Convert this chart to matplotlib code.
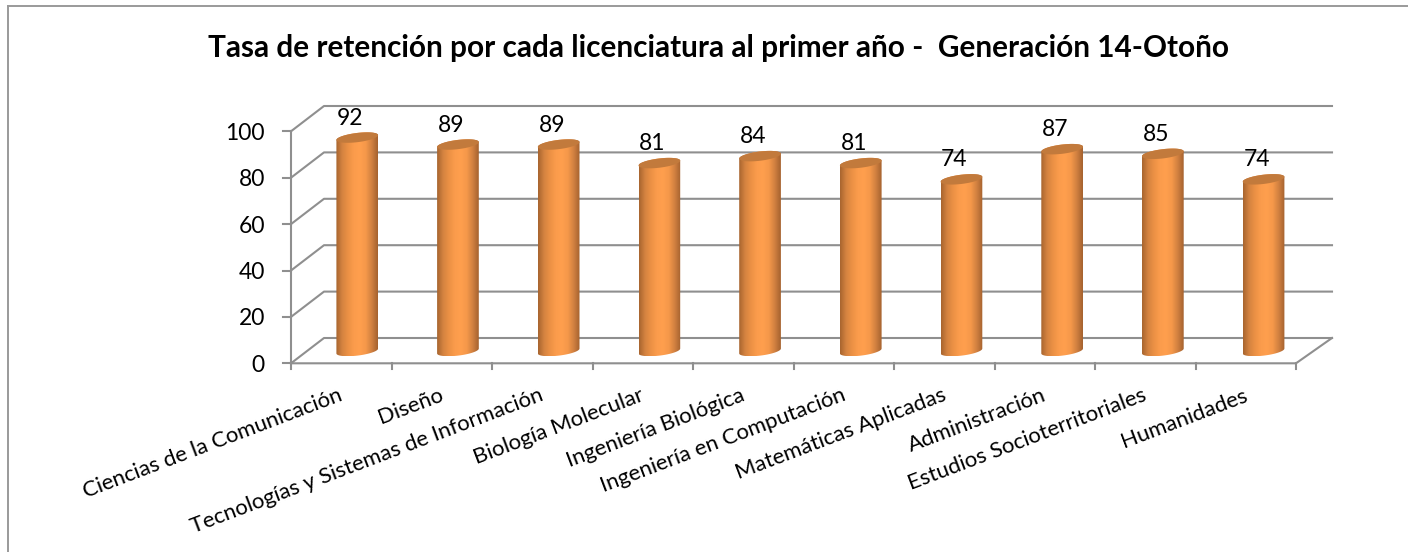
"""Tasa de retencion por licenciatura, pseudo 3D cylinder chart in plain matplotlib."""
import numpy as np
import matplotlib

matplotlib.use("Agg")
import matplotlib.pyplot as plt
from matplotlib.colors import LinearSegmentedColormap
from matplotlib.patches import Polygon

plt.rcParams["font.family"] = ["Lato", "DejaVu Sans"]

# data
carreras = [
    "Ciencias de la Comunicación", "Diseño", "Tecnologías y Sistemas de Información",
    "Biología Molecular", "Ingeniería Biológica", "Ingeniería en Computación",
    "Matemáticas Aplicadas", "Administración", "Estudios Socioterritoriales", "Humanidades",
]
retencion = [92, 89, 89, 81, 84, 81, 74, 87, 85, 74]
y_ticks = [0, 20, 40, 60, 80, 100]
titulo = "Tasa de retención por cada licenciatura al primer año -  Generación 14-Otoño"

# palette
C_GRID = "#8f8f8f"
C_BORDER = "#9a9a9a"
C_TOP = "#c27a3c"
body_cmap = LinearSegmentedColormap.from_list(
    "cyl", ["#a8652f", "#d48340", "#ec9145", "#fb9c4c", "#ff9f4e", "#f5984a", "#d08040", "#a5622e"])

fig = plt.figure(figsize=(14.08, 5.52), dpi=100)
ax = fig.add_axes([0, 0, 1, 1])

# one category = 100.5 px, one percent point = 2.32 px
PX = 1 / 100.5
PY = 1 / 2.32
x_lim = (-291 * PX, (1408 - 291) * PX)
y_lim = ((363.3 - 552) * PY, 363.3 * PY)
n = len(carreras)
depth_x = 36 * PX
depth_y = 25.3 * PY
side_x = 33 * PX  # side wall stops a bit short of the back wall grid end


def tilted(cx, cy, t):
    # ellipse seen from above, slightly rotated (right side higher)
    a, b, r = 21.0, 4.6, np.radians(7)
    xp = a * np.cos(t) * np.cos(r) - b * np.sin(t) * np.sin(r)
    yp = a * np.cos(t) * np.sin(r) + b * np.sin(t) * np.cos(r)
    return cx + xp * PX, cy + yp * PY


# walls and floor
for v in y_ticks:
    ax.plot([0, side_x, n + depth_x], [v, v + depth_y, v + depth_y], color=C_GRID, lw=1.5, zorder=1)
    ax.plot([-8 * PX, 0], [v, v], color=C_GRID, lw=1.5, zorder=1)
    ax.annotate(str(v), xy=(-26 * PX, v), xytext=(0, -1.5), textcoords="offset points",
                ha="right", va="center", fontsize=16.5, color="black")
ax.plot([0, 0], [0, 100], color=C_GRID, lw=1.5, zorder=1)
ax.plot([0, n, n + depth_x], [0, 0, depth_y], color=C_GRID, lw=1.5, zorder=1)
for i in range(n + 1):
    ax.plot([i, i], [0, -6 * PY], color=C_GRID, lw=1.5, zorder=1)

# cylinders sit a touch wider apart than the floor ticks
base = (363.3 - 351) * PY
for i, v in enumerate(retencion):
    cx = 0.5 + 16 * PX + i * 100.7 * PX
    top = base + v
    t_low = np.linspace(np.pi, 2 * np.pi, 40)
    t_up = np.linspace(0, np.pi, 40)
    xb, yb = tilted(cx, base, t_low)
    xt, yt = tilted(cx, top, t_up)
    body = Polygon(np.c_[np.r_[xb, xt], np.r_[yb, yt]], closed=True,
                   transform=ax.transData, fc="none", ec="none")
    ax.add_patch(body)
    im = ax.imshow(np.linspace(0, 1, 128).reshape(1, -1), cmap=body_cmap, aspect="auto",
                   extent=[xb.min(), xb.max(), yb.min(), yt.max()],
                   interpolation="bilinear", zorder=3)
    im.set_clip_path(body)
    t_all = np.linspace(0, 2 * np.pi, 80)
    xc, yc = tilted(cx, top, t_all)
    ax.fill(xc, yc, color=C_TOP, lw=0, zorder=4)
    ax.text(cx - 7 * PX, top + 19.5 * PY, str(v), ha="center", va="center",
            fontsize=16.5, color="black", zorder=5)

# category labels, rotated, hanging from their right end
for i, nombre in enumerate(carreras):
    ax.annotate(nombre, xy=(i + 0.5, 0), xytext=(0.5, -22.5), textcoords="offset points",
                ha="right", va="center", rotation=20.8, rotation_mode="anchor",
                fontsize=15.9, color="black")

ax.text(0.51, 1 - 48 / 552, titulo, transform=ax.transAxes, ha="center", va="center",
        fontsize=21.45, fontweight="bold", color="black")

# chart frame, its right and bottom sides fall outside the crop
ax.plot([8 * PX + x_lim[0]] * 2, [y_lim[0], (363.3 - 5.5) * PY], color=C_BORDER, lw=1.4, zorder=1)
ax.plot([8 * PX + x_lim[0], x_lim[1]], [(363.3 - 5.5) * PY] * 2, color=C_BORDER, lw=1.4, zorder=1)

ax.set_xlim(*x_lim)
ax.set_ylim(*y_lim)
ax.axis("off")

fig.savefig("out.png", dpi=100, facecolor="white")
